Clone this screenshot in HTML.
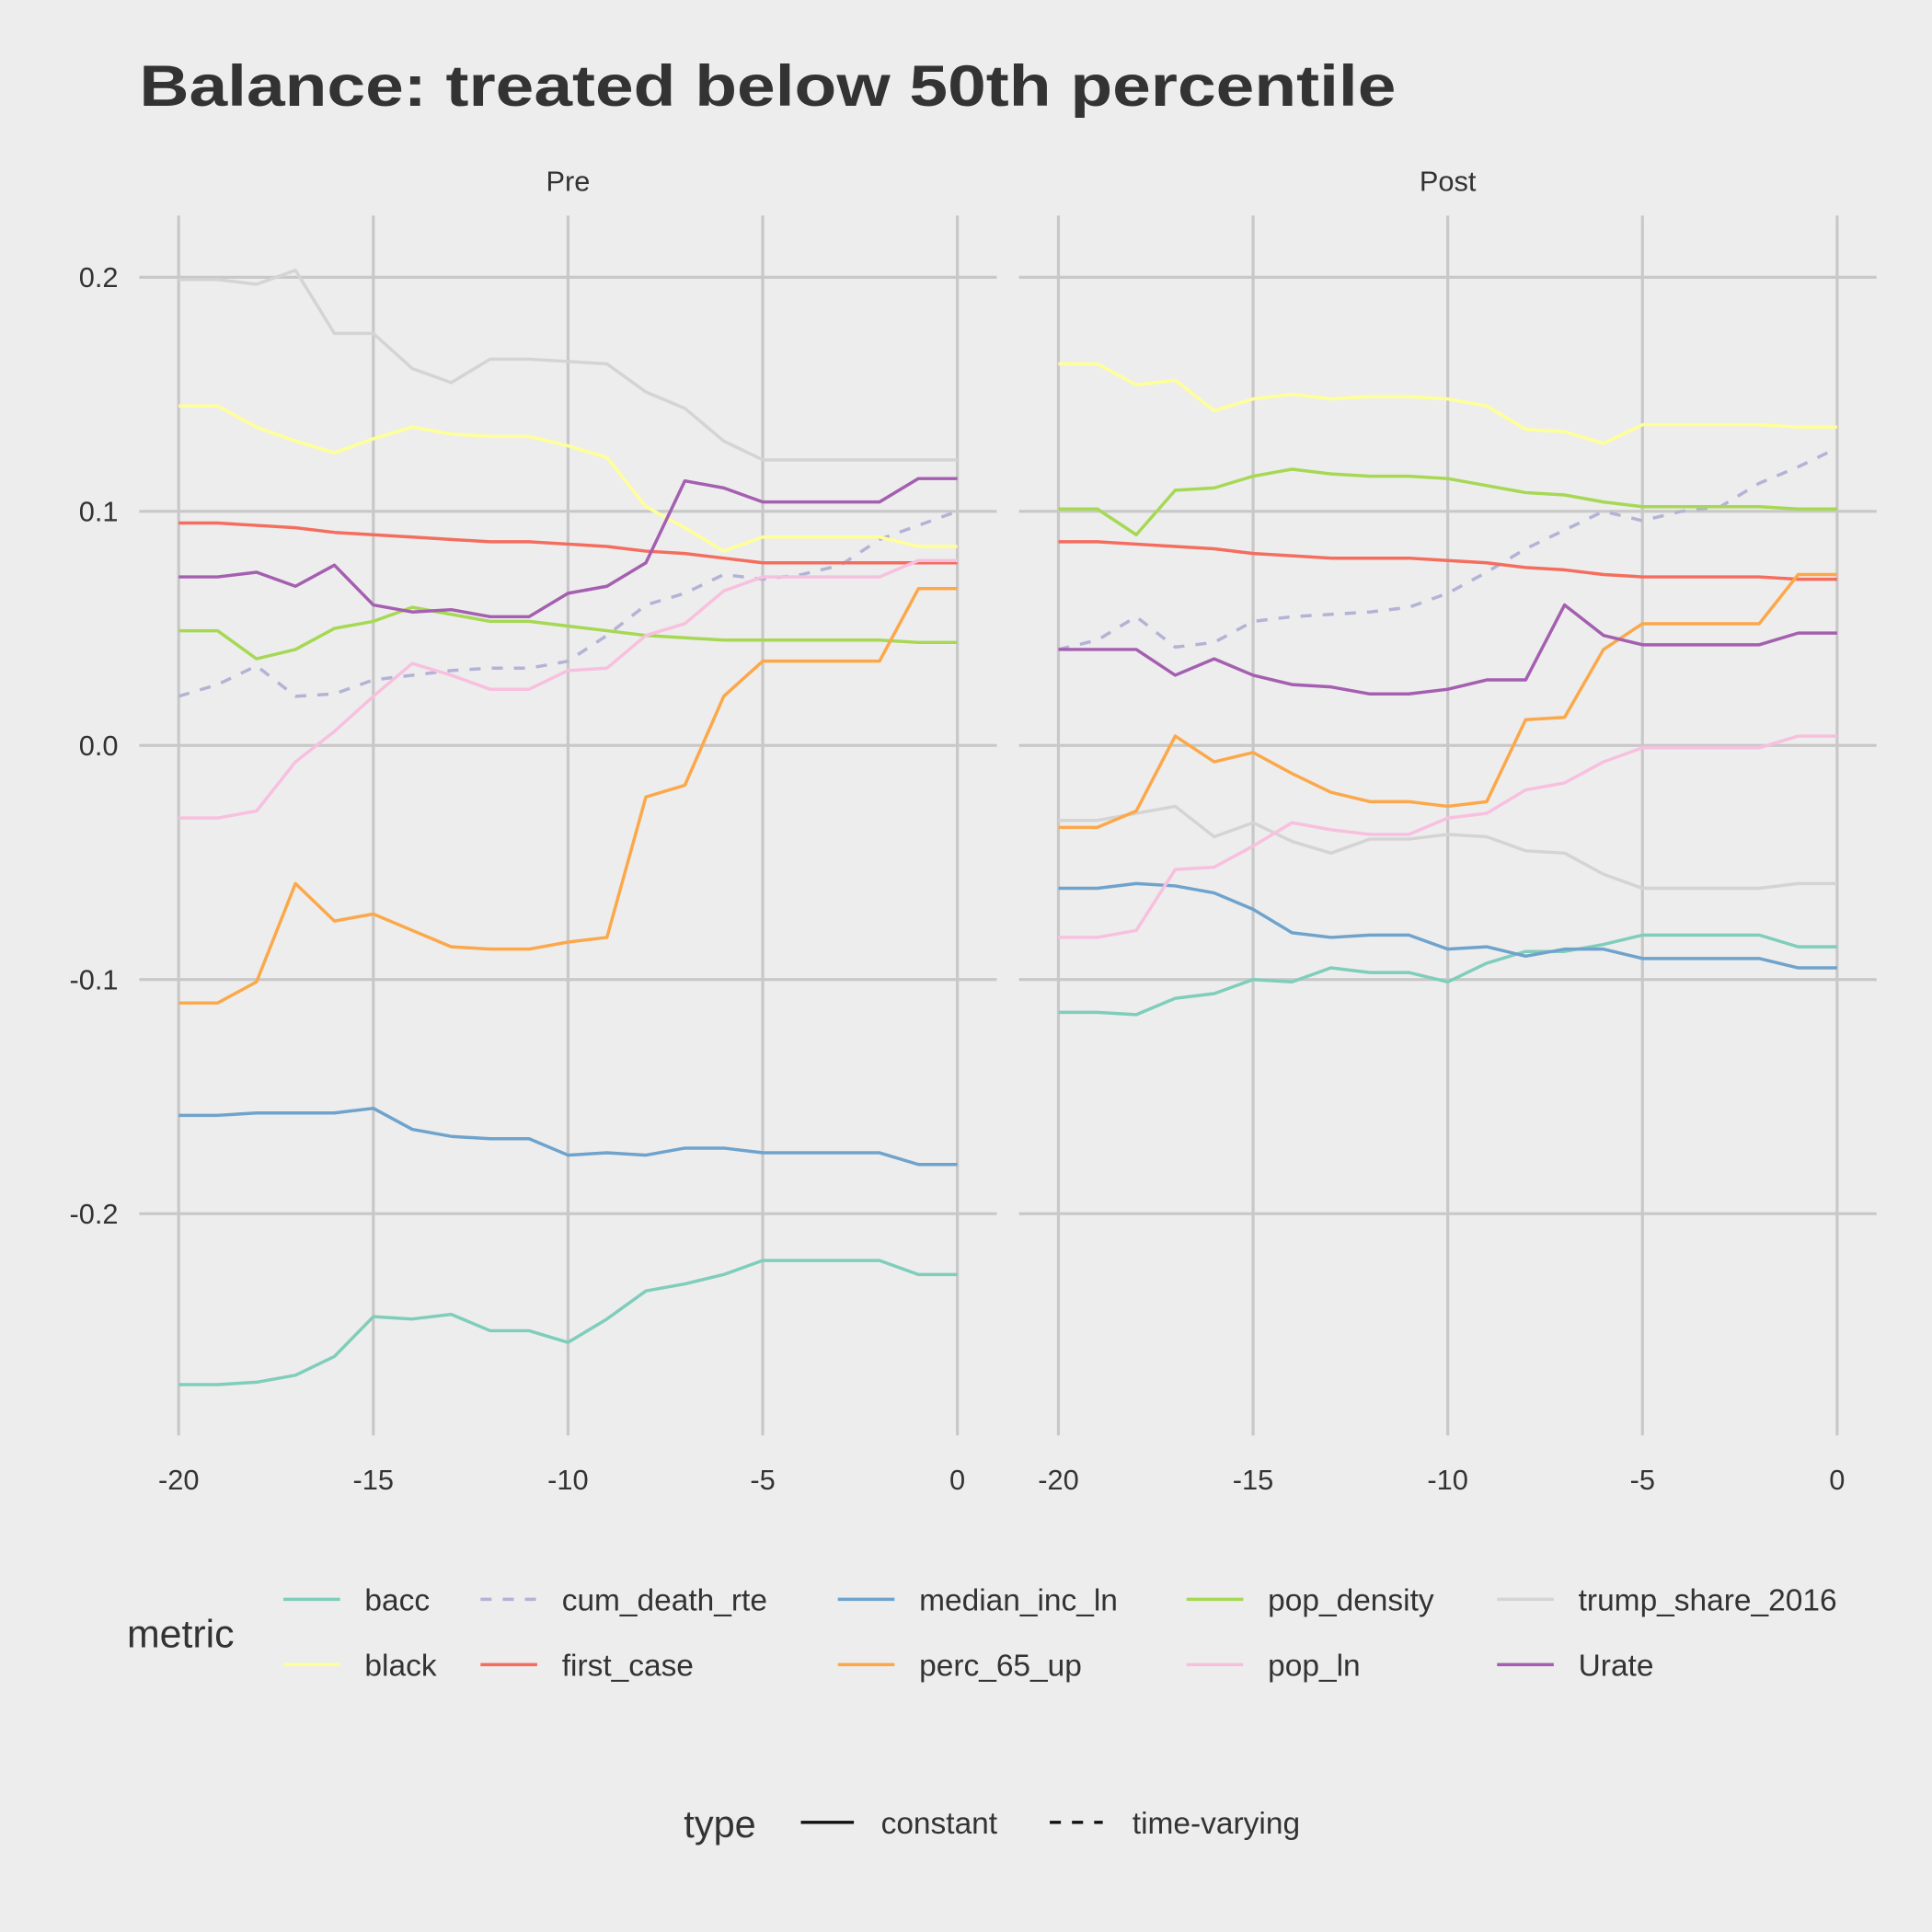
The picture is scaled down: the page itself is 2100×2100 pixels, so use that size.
<!DOCTYPE html>
<html><head><meta charset="utf-8"><style>
html,body{margin:0;padding:0;background:#ededed;}
svg{display:block;}
text{font-family:"Liberation Sans",sans-serif;fill:#333;}
</style></head><body>
<svg id="chart" width="2100" height="2100" viewBox="0 0 1568 1568" xmlns="http://www.w3.org/2000/svg">
<rect width="1568" height="1568" fill="#ededed"/>
<text x="113" y="86" font-size="47" font-weight="bold" textLength="1020" lengthAdjust="spacingAndGlyphs">Balance: treated below 50th percentile</text>
<g id="grid"></g>
<g id="lines"></g>
<g id="axes"></g>
<g id="legend"></g>
</svg>
<script>
const xTicks = [-20,-15,-10,-5,0];
const yTicks = [0.2,0.1,0.0,-0.1,-0.2];
const yTickLabels = ["0.2","0.1","0.0","-0.1","-0.2"];
const periods = [-20,-19,-18,-17,-16,-15,-14,-13,-12,-11,-10,-9,-8,-7,-6,-5,-4,-3,-2,-1,0];
const panels = ["Pre","Post"];
const metrics = ["bacc","cum_death_rte","median_inc_ln","pop_density","trump_share_2016","black","first_case","perc_65_up","pop_ln","Urate"];
const colors = {bacc:"#7fcdbb",cum_death_rte:"#b3b3d6",median_inc_ln:"#6fa3cc",pop_density:"#a6d854",trump_share_2016:"#d4d4d4",black:"#ffff99",first_case:"#f46d5e",perc_65_up:"#fca84a",pop_ln:"#f8c0df",Urate:"#a45fb0"};
const dashed = {cum_death_rte:true};

const preBacc = [-.273,-.273,-.272,-.269,-.261,-.244,-.245,-.243,-.250,-.250,-.255,-.245,-.233,-.230,-.226,-.220,-.220,-.220,-.220,-.226,-.226];
const preCumDeath = [.021,.026,.034,.021,.022,.028,.030,.032,.033,.033,.036,.047,.060,.065,.073,.071,.073,.077,.088,.094,.100];
const preMedianInc = [-.158,-.158,-.157,-.157,-.157,-.155,-.164,-.167,-.168,-.168,-.175,-.174,-.175,-.172,-.172,-.174,-.174,-.174,-.174,-.179,-.179];
const prePopDensity = [.049,.049,.037,.041,.050,.053,.059,.056,.053,.053,.051,.049,.047,.046,.045,.045,.045,.045,.045,.044,.044];
const preTrump = [.199,.199,.197,.203,.176,.176,.161,.155,.165,.165,.164,.163,.151,.144,.130,.122,.122,.122,.122,.122,.122];
const preBlack = [.145,.145,.136,.130,.125,.131,.136,.133,.132,.132,.128,.123,.102,.093,.083,.089,.089,.089,.089,.085,.085];
const preFirstCase = [.095,.095,.094,.093,.091,.090,.089,.088,.087,.087,.086,.085,.083,.082,.080,.078,.078,.078,.078,.078,.078];
const prePerc65 = [-.110,-.110,-.101,-.059,-.075,-.072,-.079,-.086,-.087,-.087,-.084,-.082,-.022,-.017,.021,.036,.036,.036,.036,.067,.067];
const prePopLn = [-.031,-.031,-.028,-.007,.006,.021,.035,.030,.024,.024,.032,.033,.047,.052,.066,.072,.072,.072,.072,.079,.079];
const preUrate = [.072,.072,.074,.068,.077,.060,.057,.058,.055,.055,.065,.068,.078,.113,.110,.104,.104,.104,.104,.114,.114];

const postBacc = [-.114,-.114,-.115,-.108,-.106,-.100,-.101,-.095,-.097,-.097,-.101,-.093,-.088,-.088,-.085,-.081,-.081,-.081,-.081,-.086,-.086];
const postCumDeath = [.041,.045,.055,.042,.044,.053,.055,.056,.057,.059,.065,.074,.084,.092,.100,.096,.100,.102,.112,.119,.127];
const postMedianInc = [-.061,-.061,-.059,-.060,-.063,-.070,-.080,-.082,-.081,-.081,-.087,-.086,-.090,-.087,-.087,-.091,-.091,-.091,-.091,-.095,-.095];
const postPopDensity = [.101,.101,.090,.109,.110,.115,.118,.116,.115,.115,.114,.111,.108,.107,.104,.102,.102,.102,.102,.101,.101];
const postTrump = [-.032,-.032,-.029,-.026,-.039,-.033,-.041,-.046,-.040,-.040,-.038,-.039,-.045,-.046,-.055,-.061,-.061,-.061,-.061,-.059,-.059];
const postBlack = [.163,.163,.154,.156,.143,.148,.150,.148,.149,.149,.148,.145,.135,.134,.129,.137,.137,.137,.137,.136,.136];
const postFirstCase = [.087,.087,.086,.085,.084,.082,.081,.080,.080,.080,.079,.078,.076,.075,.073,.072,.072,.072,.072,.071,.071];
const postPerc65 = [-.035,-.035,-.028,.004,-.007,-.003,-.012,-.020,-.024,-.024,-.026,-.024,.011,.012,.041,.052,.052,.052,.052,.073,.073];
const postPopLn = [-.082,-.082,-.079,-.053,-.052,-.043,-.033,-.036,-.038,-.038,-.031,-.029,-.019,-.016,-.007,-.001,-.001,-.001,-.001,.004,.004];
const postUrate = [.041,.041,.041,.030,.037,.030,.026,.025,.022,.022,.024,.028,.028,.060,.047,.043,.043,.043,.043,.048,.048];

const series = {
 Pre:{bacc:preBacc,cum_death_rte:preCumDeath,median_inc_ln:preMedianInc,pop_density:prePopDensity,trump_share_2016:preTrump,black:preBlack,first_case:preFirstCase,perc_65_up:prePerc65,pop_ln:prePopLn,Urate:preUrate},
 Post:{bacc:postBacc,cum_death_rte:postCumDeath,median_inc_ln:postMedianInc,pop_density:postPopDensity,trump_share_2016:postTrump,black:postBlack,first_case:postFirstCase,perc_65_up:postPerc65,pop_ln:postPopLn,Urate:postUrate}
};

const NS="http://www.w3.org/2000/svg";
const panelLeft=[113,827], panelW=696, panelTop=175, panelBot=1165;
function xScale(p,v){const x0=panelLeft[p]+32;return x0+(v+20)*(632/20);}
function yScale(v){return 605-v*1900;}
function mk(tag,attrs,parent){const e=document.createElementNS(NS,tag);for(const k in attrs)e.setAttribute(k,attrs[k]);parent.appendChild(e);return e;}
const grid=document.getElementById('grid'),lines=document.getElementById('lines'),axes=document.getElementById('axes'),legend=document.getElementById('legend');

panels.forEach((pn,p)=>{
  const st=mk('text',{x:panelLeft[p]+panelW/2,y:155,'font-size':'23','text-anchor':'middle'},axes);
  st.textContent=pn;
  
  
  yTicks.forEach(t=>{
    const l=mk('line',{x1:panelLeft[p],x2:panelLeft[p]+panelW,y1:yScale(t),y2:yScale(t),stroke:'#c8c8c8','stroke-width':'2.4'},grid);
    
    
  });
  xTicks.forEach(t=>{
    const l=mk('line',{x1:xScale(p,t),x2:xScale(p,t),y1:panelTop,y2:panelBot,stroke:'#c8c8c8','stroke-width':'2.4'},grid);
    
    
    const tx=mk('text',{x:xScale(p,t),y:1209,'font-size':'23','text-anchor':'middle',fill:'#333'},axes);
    tx.textContent=String(t);
    
    
  });
  metrics.forEach(m=>{
    const vals=series[pn][m];
    const d=vals.map((v,i)=>(i?'L':'M')+xScale(p,periods[i]).toFixed(1)+','+yScale(v).toFixed(1)).join(' ');
    const path=mk('path',{d:d,fill:'none',stroke:colors[m],'stroke-width':'2.6','stroke-linejoin':'round'},lines);
    if(dashed[m])path.setAttribute('stroke-dasharray','9,9');
    
    
  });
});
yTicks.forEach((t,i)=>{
  const tx=mk('text',{x:96,y:yScale(t)+8,'font-size':'23','text-anchor':'end'},axes);
  tx.textContent=yTickLabels[i];
  
  
});

const lt=mk('text',{x:103,y:1337,'font-size':'32'},legend);
lt.textContent='metric';


const legOrder=[["bacc","black"],["cum_death_rte","first_case"],["median_inc_ln","perc_65_up"],["pop_density","pop_ln"],["trump_share_2016","Urate"]];
const colX=[230,390,680,963,1215], rowY=[1298,1351];
legOrder.forEach((col,c)=>col.forEach((m,r)=>{
  const g=mk('g',{},legend);
  
  
  const l=mk('line',{x1:colX[c],x2:colX[c]+46,y1:rowY[r],y2:rowY[r],stroke:colors[m],'stroke-width':'2.6'},g);
  if(dashed[m])l.setAttribute('stroke-dasharray','9,9');
  const t=mk('text',{x:colX[c]+66,y:rowY[r]+9,'font-size':'25'},g);
  t.textContent=m;
}));
const tt=mk('text',{x:555,y:1491,'font-size':'31'},legend);
tt.textContent='type';


[["constant",650,715,null],["time-varying",852,919,"9,9"]].forEach(e=>{
  const g=mk('g',{},legend);
  
  
  const l=mk('line',{x1:e[1],x2:e[1]+43,y1:1479,y2:1479,stroke:'#111','stroke-width':'2.6'},g);
  if(e[3])l.setAttribute('stroke-dasharray',e[3]);
  const t=mk('text',{x:e[2],y:1488,'font-size':'25'},g);
  t.textContent=e[0];
});
</script>
</body></html>
